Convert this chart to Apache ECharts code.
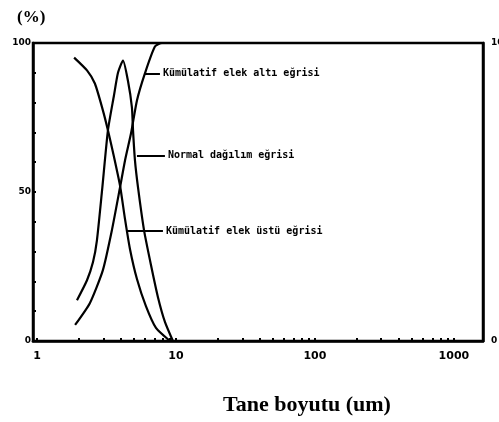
<!DOCTYPE html>
<html>
<head>
<meta charset="utf-8">
<script src="https://cdn.jsdelivr.net/npm/echarts@6/dist/echarts.min.js"></script>
<style>
  html, body { margin: 0; padding: 0; background: #fff; }
  #main { width: 499px; height: 422px; }
</style>
</head>
<body>
<div id="main"></div>
<script>
  // tane boyutu (um), log eksen
  const xLabels = [1, 10, 100, 1000];
  const yLabelsLeft = [0, 50, 100];

  // Kümülatif elek altı eğrisi
  const altD = [1.88, 2.40, 2.98, 3.46, 3.96, 4.30, 4.75, 5.24, 5.98, 7.06, 7.93, 10];
  const altV = [5.4, 12.7, 23.8, 37.2, 51.6, 60.6, 69.7, 80.7, 89.8, 98.8, 100, 100];

  // Normal dağılım eğrisi
  const normD = [1.94, 2.29, 2.53, 2.70, 2.94, 3.24, 3.58, 3.83, 4.16, 4.51, 4.82, 4.91, 5.07, 5.33, 5.89, 6.61, 7.42, 8.33, 9.51];
  const normV = [13.7, 20.4, 26.5, 33.8, 50.6, 70.7, 82.4, 90.1, 94.1, 87.4, 78.4, 70.7, 60.6, 51.6, 37.2, 25.5, 14.7, 6.4, 0];

  // Kümülatif elek üstü eğrisi
  const ustD = [1.85, 2.29, 2.61, 2.98, 3.24, 3.58, 3.96, 4.30, 4.67, 5.24, 6.08, 7.18, 9.06];
  const ustV = [95.1, 90.8, 86.4, 77.4, 70.7, 61.8, 52.1, 40.9, 30.8, 20.8, 11.7, 4.4, 0];

  // ara çentikler 2..9 her dekadda
  const minorTicks = [];
  [1, 10, 100, 1000].forEach(function (dec) {
    for (let k = 1; k <= 9; k++) {
      if (dec * k <= 1600) minorTicks.push(dec * k);
    }
  });

  function pairs(xs, ys) {
    return xs.map(function (x, i) { return [x, ys[i]]; });
  }

  const lineStyle = { color: '#000', width: 2.2 };
  const labelFont = { color: '#000', fontFamily: 'DejaVu Sans Mono', fontWeight: 'bold', fontSize: 10 };

  function pointer(x1, x2, y, text) {
    return {
      silent: true,
      symbol: 'none',
      animation: false,
      lineStyle: { color: '#000', width: 2, type: 'solid' },
      label: Object.assign({ show: true, position: 'end', distance: 3, formatter: text }, labelFont),
      data: [[{ coord: [x1, y] }, { coord: [x2, y] }]]
    };
  }

  const chart = echarts.init(document.getElementById('main'));
  chart.setOption({
    animation: false,
    backgroundColor: '#fff',
    title: [
      {
        text: '(%)', left: 12, top: 4,
        textStyle: { fontFamily: 'Liberation Serif', fontWeight: 'bold', fontSize: 17, color: '#000' }
      },
      {
        text: 'Tane boyutu (um)', left: 302, textAlign: 'center', top: 389,
        textStyle: { fontFamily: 'Liberation Serif', fontWeight: 'bold', fontSize: 22, color: '#000' }
      }
    ],
    grid: {
      left: 33, right: 16, top: 43, bottom: 81,
      outerBoundsMode: 'none',
      containLabel: false,
      show: true, borderColor: '#000', borderWidth: 2.5
    },
    xAxis: {
      type: 'log',
      logBase: 10,
      min: 0.936,
      max: 1620,
      axisLine: { lineStyle: { color: '#000', width: 2.5 } },
      axisTick: { show: true, inside: true, length: 3, customValues: minorTicks, lineStyle: { color: '#000', width: 2 } },
      axisLabel: {
        customValues: xLabels, margin: 10, color: '#000',
        fontFamily: 'DejaVu Sans', fontWeight: 'bold', fontSize: 11,
        formatter: function (v) { return String(Math.round(v)); }
      },
      splitLine: { show: false },
      minorTick: { show: false }
    },
    yAxis: [
      {
        type: 'value',
        min: 0, max: 100, interval: 10,
        axisLine: { show: true, lineStyle: { color: '#000', width: 2.5 } },
        axisTick: { show: true, inside: true, length: 3, lineStyle: { color: '#000', width: 2 } },
        axisLabel: {
          margin: 2, color: '#000', fontFamily: 'DejaVu Sans', fontWeight: 'bold', fontSize: 9,
          formatter: function (v) { return yLabelsLeft.indexOf(v) >= 0 ? String(v) : ''; }
        },
        splitLine: { show: false }
      },
      {
        type: 'value',
        position: 'right',
        min: 0, max: 100, interval: 100,
        axisLine: { show: true, lineStyle: { color: '#000', width: 2.5 } },
        axisTick: { show: false },
        axisLabel: { margin: 8, color: '#000', fontFamily: 'DejaVu Sans', fontWeight: 'bold', fontSize: 9 },
        splitLine: { show: false }
      }
    ],
    series: [
      {
        name: 'Kümülatif elek altı eğrisi',
        type: 'line',
        smooth: 0.2,
        showSymbol: false,
        lineStyle: lineStyle,
        data: pairs(altD, altV),
        markLine: pointer(5.98, 7.67, 89.8, 'Kümülatif elek altı eğrisi')
      },
      {
        name: 'Normal dağılım eğrisi',
        type: 'line',
        smooth: 0.2,
        showSymbol: false,
        lineStyle: lineStyle,
        data: pairs(normD, normV),
        markLine: pointer(5.24, 8.33, 62.3, 'Normal dağılım eğrisi')
      },
      {
        name: 'Kümülatif elek üstü eğrisi',
        type: 'line',
        smooth: 0.2,
        showSymbol: false,
        lineStyle: lineStyle,
        data: pairs(ustD, ustV),
        markLine: pointer(4.44, 8.06, 36.9, 'Kümülatif elek üstü eğrisi')
      }
    ]
  });
</script>
</body>
</html>
